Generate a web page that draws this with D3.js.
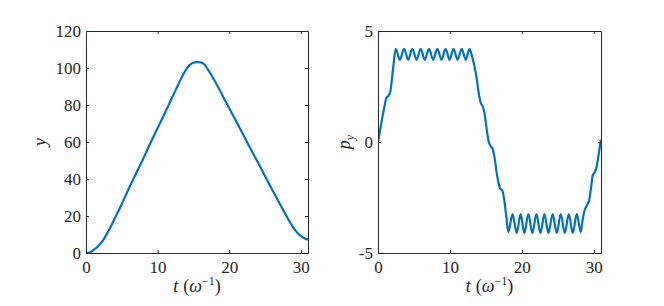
<!DOCTYPE html>
<html>
<head>
<meta charset="utf-8">
<script src="https://cdn.jsdelivr.net/npm/d3@7"></script>
<style>
  body { margin: 0; background: #fff; }
  svg { display: block; }
  .tick text { font-family: "Liberation Serif", "DejaVu Serif", serif; font-size: 17px; fill: #262626; }
  .lbl { font-family: "Liberation Serif", "DejaVu Serif", serif; font-size: 18px; fill: #262626; }
</style>
</head>
<body>
<svg width="664" height="306"></svg>
<script>
// Left panel: y(t)
const leftT = [0, 0.5, 1, 1.5, 2, 2.5, 3, 3.5, 4, 5, 6, 7, 8, 9, 10, 11, 12, 13, 13.5, 14, 14.5, 15, 15.5, 16, 16.5, 17, 17.5, 18, 18.5, 19, 20, 21, 22, 23, 24, 25, 26, 27, 28, 28.5, 29, 29.5, 30, 30.5, 31];
const leftY = [0, 0.3, 1.5, 3, 5, 7.5, 11, 14.5, 18.5, 26.5, 35, 43, 51, 59.5, 67.5, 75.5, 83.8, 92, 96, 99.3, 101.7, 102.9, 103.2, 103, 102, 99.3, 96.2, 92.8, 89.3, 85.6, 78.2, 71, 63.6, 56.2, 49, 41.6, 34.2, 27, 20, 16.5, 13.5, 11, 9.2, 8, 7.2];

// Right panel: p_y(t)
const rightT = [0, 0.5, 0.9, 1.15, 1.45, 1.7, 2.1, 2.46,
  3.04, 3.62, 4.2, 4.77, 5.36, 5.94, 6.5, 7.09, 7.67, 8.25, 8.83, 9.4, 9.95, 10.5, 11.06, 11.64, 12.2, 12.72,
  13.0, 13.35, 13.7, 14.0, 14.3, 14.55, 14.8, 15.1, 15.4, 15.65, 15.95, 16.2, 16.55, 16.95, 17.3, 17.55, 17.85, 18.12,
  18.7, 19.29, 19.82, 20.35, 20.9, 21.46, 22.02, 22.58, 23.13, 23.69, 24.27, 24.86, 25.4, 25.97, 26.52, 27.08, 27.63, 28.19,
  28.45, 28.7, 29.05, 29.4, 29.6, 29.85, 30.15, 30.4, 30.7, 31.0];
const rightP = [0, 0.92, 1.6, 1.98, 2.08, 2.25, 3.3, 4.2,
  3.7, 4.2, 3.7, 4.2, 3.7, 4.2, 3.7, 4.2, 3.7, 4.2, 3.7, 4.2, 3.7, 4.2, 3.7, 4.2, 3.7, 4.2,
  3.95, 3.5, 2.9, 2.2, 1.75, 1.6, 1.3, 0.6, 0.0, -0.18, -0.32, -0.7, -1.5, -2.07, -2.2, -2.6, -3.4, -4.05,
  -3.25, -4.1, -3.25, -4.1, -3.25, -4.1, -3.25, -4.1, -3.25, -4.1, -3.25, -4.1, -3.25, -4.1, -3.25, -4.1, -3.25, -4.05,
  -3.5, -3.1, -2.85, -2.55, -2.1, -1.5, -1.35, -1.1, -0.5, 0.1];

const xTicks = [0, 10, 20, 30];
const leftYTicks = [0, 20, 40, 60, 80, 100, 120];
const rightYTicks = [-5, 0, 5];

const svg = d3.select('svg');
const plotTop = 31, plotBottom = 253;
const lineColor = '#0072BD';
const axisColor = '#262626';

function drawPanel(x0, x1, tVals, vVals, yDomain, yTicks) {
    let x = d3.scaleLinear().domain([0, 31]).range([x0, x1]);
    let y = d3.scaleLinear().domain(yDomain).range([plotBottom, plotTop]);

    // data line, clipped to the box
    let id = 'clip' + x0;
    svg.append('clipPath').attr('id', id)
        .append('rect').attr('x', x0).attr('y', plotTop).attr('width', x1 - x0).attr('height', plotBottom - plotTop);

    let pts = tVals.map((t, i) => [t, vVals[i]]);
    svg.append('path')
        .datum(pts)
        .attr('clip-path', 'url(#' + id + ')')
        .attr('fill', 'none')
        .attr('stroke', lineColor)
        .attr('stroke-width', 2.2)
        .attr('stroke-linejoin', 'round')
        .attr('d', d3.line().x(d => x(d[0])).y(d => y(d[1])).curve(d3.curveMonotoneX));

    // axes, ticks inside
    let gB = svg.append('g').attr('transform', `translate(0,${plotBottom})`)
        .call(d3.axisBottom(x).tickValues(xTicks).tickSize(-3).tickSizeOuter(0).tickPadding(5));
    let gT = svg.append('g').attr('transform', `translate(0,${plotTop})`)
        .call(d3.axisTop(x).tickValues(xTicks).tickSize(-3).tickSizeOuter(0).tickFormat(''));
    let gL = svg.append('g').attr('transform', `translate(${x0},0)`)
        .call(d3.axisLeft(y).tickValues(yTicks).tickSize(-3).tickSizeOuter(0).tickPadding(5).tickFormat(d => String(d)));
    let gR = svg.append('g').attr('transform', `translate(${x1},0)`)
        .call(d3.axisRight(y).tickValues(yTicks).tickSize(-3).tickSizeOuter(0).tickFormat(''));

    [gB, gT, gL, gR].forEach(g => {
        g.select('.domain').attr('stroke', axisColor).attr('stroke-width', 1);
        g.selectAll('.tick line').attr('stroke', axisColor);
    });
    gB.selectAll('.tick text').attr('dy', '0.9em');
    gL.selectAll('.tick text').attr('dy', '0.35em');

    // x label: t (ω^-1)
    let xl = svg.append('text').attr('class', 'lbl')
        .attr('x', (x0 + x1) / 2).attr('y', 292).attr('text-anchor', 'middle');
    xl.append('tspan').attr('font-style', 'italic').text('t');
    xl.append('tspan').attr('dx', 5).text('(');
    xl.append('tspan').attr('font-style', 'italic').text('ω');
    xl.append('tspan').attr('font-size', '12px').attr('dy', -7).text('−1');
    xl.append('tspan').attr('dy', 7).text(')');

    return { x, y };
}

drawPanel(86, 308, leftT, leftY, [0, 120], leftYTicks);
drawPanel(378, 601, rightT, rightP, [-5, 5], rightYTicks);

// y labels (rotated)
svg.append('text').attr('class', 'lbl')
    .attr('transform', 'translate(46,142) rotate(-90)')
    .attr('text-anchor', 'middle')
    .attr('font-style', 'italic')
    .text('y');

let pl = svg.append('text').attr('class', 'lbl')
    .attr('transform', 'translate(350,142) rotate(-90)')
    .attr('text-anchor', 'middle')
    .attr('font-style', 'italic');
pl.append('tspan').text('p');
pl.append('tspan').attr('font-size', '12px').attr('dy', 4).text('y');
</script>
</body>
</html>
